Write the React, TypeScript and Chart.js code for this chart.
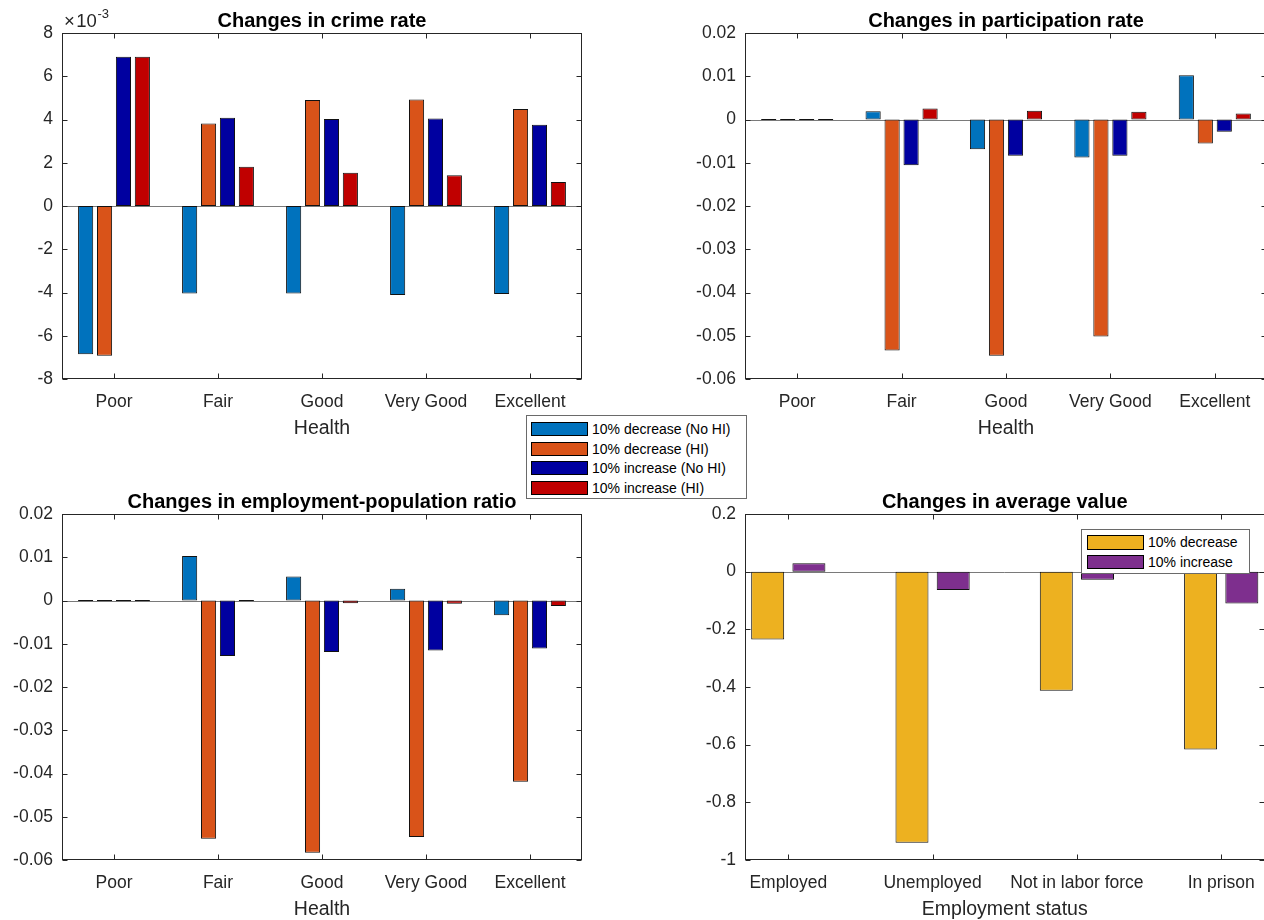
import React, { useEffect, useRef } from 'react';
import { Chart, registerables } from 'chart.js';

Chart.register(...registerables);

const FONT = '"Liberation Sans", Arial, Helvetica, sans-serif';
const AXIS_COLOR = '#262626';

// ---------- data ----------
const healthLabels = ['Poor', 'Fair', 'Good', 'Very Good', 'Excellent'];
const healthSeriesNames = ['10% decrease (No HI)', '10% decrease (HI)', '10% increase (No HI)', '10% increase (HI)'];
const healthSeriesColors = ['#0072BD', '#D95319', '#0000A0', '#C00000'];

const crimeDecNoHI = [-0.00686, -0.00405, -0.00405, -0.00411, -0.00407];
const crimeDecHI = [-0.00692, 0.00382, 0.0049, 0.00493, 0.00448];
const crimeIncNoHI = [0.0069, 0.00408, 0.00402, 0.00405, 0.00376];
const crimeIncHI = [0.0069, 0.00182, 0.00154, 0.00142, 0.00111];

const partDecNoHI = [0, 0.00193, -0.00686, -0.00879, 0.01025];
const partDecHI = [0, -0.0534, -0.0546, -0.0502, -0.00555];
const partIncNoHI = [0, -0.01056, -0.0084, -0.0084, -0.00285];
const partIncHI = [0, 0.00254, 0.002, 0.00177, 0.00139];

const empDecNoHI = [0, 0.01027, 0.00556, 0.0027, -0.0034];
const empDecHI = [0, -0.0551, -0.0583, -0.0547, -0.0419];
const empIncNoHI = [0, -0.01282, -0.01189, -0.01158, -0.0111];
const empIncHI = [0, 0, -0.00062, -0.00077, -0.0013];

const statusLabels = ['Employed', 'Unemployed', 'Not in labor force', 'In prison'];
const avgSeriesNames = ['10% decrease', '10% increase'];
const avgSeriesColors = ['#EDB120', '#7E2F8E'];
const avgDecrease = [-0.235, -0.94, -0.413, -0.617];
const avgIncrease = [0.029, -0.0637, -0.0278, -0.11];

const crimeTicks = { min: -0.008, max: 0.008, step: 0.002 };
const partTicks = { min: -0.06, max: 0.02, step: 0.01 };
const empTicks = { min: -0.06, max: 0.02, step: 0.01 };
const avgTicks = { min: -1, max: 0.2, step: 0.2 };

// ---------- plugin drawing MATLAB-like axes box ----------
const matlabAxesPlugin = {
  id: 'matlabAxes',
  beforeDatasetsDraw(chart: any) {
    const { ctx, chartArea: a } = chart;
    const y0 = Math.round(chart.scales.y.getPixelForValue(0)) + 0.5;
    ctx.save();
    ctx.strokeStyle = '#7a7a7a';
    ctx.lineWidth = 1;
    ctx.beginPath();
    ctx.moveTo(a.left, y0);
    ctx.lineTo(a.right, y0);
    ctx.stroke();
    ctx.restore();
  },
  afterDraw(chart: any, _args: any, opts: any) {
    const { ctx, chartArea: a, scales } = chart;
    const L = Math.round(a.left) + 0.5;
    const R = Math.round(a.right) - 0.5;
    const T = Math.round(a.top) + 0.5;
    const B = Math.round(a.bottom) - 0.5;
    ctx.save();
    ctx.strokeStyle = AXIS_COLOR;
    ctx.lineWidth = 1;
    ctx.strokeRect(L, T, R - L, B - T);
    const tl = 5;
    ctx.beginPath();
    scales.x.ticks.forEach((_t: any, i: number) => {
      const px = Math.round(scales.x.getPixelForTick(i)) + 0.5;
      ctx.moveTo(px, B);
      ctx.lineTo(px, B - tl);
      ctx.moveTo(px, T);
      ctx.lineTo(px, T + tl);
    });
    scales.y.ticks.forEach((_t: any, i: number) => {
      const py = Math.round(scales.y.getPixelForTick(i)) + 0.5;
      ctx.moveTo(L, py);
      ctx.lineTo(L + tl, py);
      ctx.moveTo(R, py);
      ctx.lineTo(R - tl, py);
    });
    ctx.stroke();

    const cx = (a.left + a.right) / 2;
    ctx.textAlign = 'center';
    ctx.textBaseline = 'alphabetic';
    ctx.fillStyle = '#000';
    ctx.font = `bold 20px ${FONT}`;
    ctx.fillText(opts.title, cx, a.top - 6.5);
    ctx.fillStyle = AXIS_COLOR;
    ctx.font = `19.5px ${FONT}`;
    ctx.fillText(opts.xLabel, cx, a.bottom + 55);

    if (opts.exponent) {
      ctx.textAlign = 'left';
      ctx.font = `18.5px ${FONT}`;
      const times = '\u00D7';
      ctx.fillText(times, a.left + 2, a.top - 6);
      const wt = ctx.measureText(times).width + 1.5;
      ctx.fillText('10', a.left + 2 + wt, a.top - 6);
      const w = wt + ctx.measureText('10').width;
      ctx.font = `13px ${FONT}`;
      ctx.fillText(opts.exponent, a.left + 2.5 + w, a.top - 15);
    }
    ctx.restore();
  },
};

type Area = { left: number; right: number; top: number; bottom: number };
type PanelSpec = {
  left: number;
  top: number;
  width: number;
  height: number;
  area: Area;
  title: string;
  xLabel: string;
  exponent?: string;
  labels: string[];
  linearX?: { min: number; max: number };
  series: number[][];
  names: string[];
  colors: string[];
  yTicks: { min: number; max: number; step: number };
  yFormat: (v: number) => string;
};

function makeConfig(p: PanelSpec): any {
  const groupWidth = Math.min(0.8, p.series.length / (p.series.length + 1.5));
  const datasets = p.series.map((vals, si) => ({
    label: p.names[si],
    data: p.linearX ? vals.map((v, i) => ({ x: i + 1, y: v })) : vals,
    backgroundColor: p.colors[si],
    borderColor: '#111',
    borderWidth: 1,
    borderSkipped: false,
    barPercentage: 0.8,
    categoryPercentage: groupWidth,
    minBarLength: 1,
  }));
  const tickFont = { family: FONT, size: 17.5 };
  const xScale: any = p.linearX
    ? {
        type: 'linear',
        offset: false,
        min: p.linearX.min,
        max: p.linearX.max,
        afterBuildTicks: (s: any) => {
          s.ticks = p.labels.map((_l, i) => ({ value: i + 1 }));
        },
        ticks: {
          callback: (v: any) => p.labels[Math.round(v) - 1] ?? '',
          font: tickFont,
          color: AXIS_COLOR,
          padding: 13,
          maxRotation: 0,
          autoSkip: false,
        },
      }
    : {
        type: 'category',
        offset: true,
        ticks: { font: tickFont, color: AXIS_COLOR, padding: 13, maxRotation: 0, autoSkip: false },
      };
  xScale.grid = { display: false, drawTicks: false, offset: false };
  xScale.border = { display: false };
  xScale.afterFit = (s: any) => {
    s.height = p.height - p.area.bottom;
  };
  return {
    type: 'bar',
    data: { labels: p.linearX ? undefined : p.labels, datasets },
    options: {
      animation: false,
      responsive: false,
      devicePixelRatio: 1,
      layout: { padding: { top: p.area.top, right: p.width - p.area.right, left: 0, bottom: 0 } },
      plugins: {
        legend: { display: false },
        title: { display: false },
        tooltip: { enabled: false },
        matlabAxes: { title: p.title, xLabel: p.xLabel, exponent: p.exponent },
      },
      scales: {
        x: xScale,
        y: {
          type: 'linear',
          min: p.yTicks.min,
          max: p.yTicks.max,
          grid: { display: false, drawTicks: false },
          border: { display: false },
          ticks: {
            stepSize: p.yTicks.step,
            font: tickFont,
            color: AXIS_COLOR,
            padding: 9,
            callback: (v: any) => p.yFormat(Number(v)),
          },
          afterFit: (s: any) => {
            s.width = p.area.left;
          },
        },
      },
    },
    plugins: [matlabAxesPlugin],
  };
}

const fmtMilli = (v: number) => String(Math.round(v * 1000) + 0);
const fmt2 = (v: number) => String(Math.round(v * 100) / 100 + 0);
const fmt1 = (v: number) => String(Math.round(v * 10) / 10 + 0);

const panels: PanelSpec[] = [
  {
    left: 0, top: 0, width: 600, height: 460,
    area: { left: 62, right: 582, top: 33, bottom: 379 },
    title: 'Changes in crime rate', xLabel: 'Health', exponent: '-3',
    labels: healthLabels,
    series: [crimeDecNoHI, crimeDecHI, crimeIncNoHI, crimeIncHI],
    names: healthSeriesNames, colors: healthSeriesColors,
    yTicks: crimeTicks, yFormat: fmtMilli,
  },
  {
    left: 683, top: 0, width: 600, height: 460,
    area: { left: 62, right: 584, top: 33, bottom: 379 },
    title: 'Changes in participation rate', xLabel: 'Health',
    labels: healthLabels,
    series: [partDecNoHI, partDecHI, partIncNoHI, partIncHI],
    names: healthSeriesNames, colors: healthSeriesColors,
    yTicks: partTicks, yFormat: fmt2,
  },
  {
    left: 0, top: 460, width: 600, height: 460,
    area: { left: 62, right: 582, top: 54, bottom: 400 },
    title: 'Changes in employment-population ratio', xLabel: 'Health',
    labels: healthLabels,
    series: [empDecNoHI, empDecHI, empIncNoHI, empIncHI],
    names: healthSeriesNames, colors: healthSeriesColors,
    yTicks: empTicks, yFormat: fmt2,
  },
  {
    left: 683, top: 460, width: 600, height: 460,
    area: { left: 62, right: 581.5, top: 54, bottom: 400 },
    title: 'Changes in average value', xLabel: 'Employment status',
    labels: statusLabels, linearX: { min: 0.7, max: 4.3 },
    series: [avgDecrease, avgIncrease],
    names: avgSeriesNames, colors: avgSeriesColors,
    yTicks: avgTicks, yFormat: fmt1,
  },
];

function Panel({ spec }: { spec: PanelSpec }) {
  const ref = useRef<HTMLCanvasElement>(null);
  useEffect(() => {
    const chart = new Chart(ref.current as HTMLCanvasElement, makeConfig(spec));
    return () => chart.destroy();
  }, [spec]);
  return (
    <canvas
      ref={ref}
      width={spec.width}
      height={spec.height}
      style={{ position: 'absolute', left: spec.left, top: spec.top, width: spec.width, height: spec.height }}
    />
  );
}

type LegendProps = {
  left: number; top: number; width: number; height: number;
  names: string[]; colors: string[];
  rowTop: number; rowPitch: number; swLeft: number; swWidth: number; swHeight: number; textLeft: number;
};

function Legend(p: LegendProps) {
  return (
    <div
      style={{
        position: 'absolute', left: p.left, top: p.top, width: p.width, height: p.height,
        boxSizing: 'border-box', border: '1px solid #6a6a6a', background: '#fff',
        fontFamily: FONT, fontSize: 14, color: '#000',
      }}
    >
      {p.names.map((n, i) => (
        <React.Fragment key={n}>
          <div
            style={{
              position: 'absolute', left: p.swLeft, top: p.rowTop + i * p.rowPitch,
              width: p.swWidth, height: p.swHeight, boxSizing: 'border-box',
              background: p.colors[i], border: '1px solid #000',
            }}
          />
          <div
            style={{
              position: 'absolute', left: p.textLeft, top: p.rowTop + i * p.rowPitch + p.swHeight / 2 - 9,
              height: 18, lineHeight: '18px', whiteSpace: 'nowrap',
            }}
          >
            {n}
          </div>
        </React.Fragment>
      ))}
    </div>
  );
}

export default function App() {
  return (
    <div
      style={{
        position: 'fixed', left: 0, top: 0, width: 1264, height: 920,
        overflow: 'hidden', background: '#fff',
      }}
    >
      {panels.map((p, i) => (
        <Panel key={i} spec={p} />
      ))}
      <Legend
        left={526} top={415} width={221} height={84}
        names={healthSeriesNames} colors={healthSeriesColors}
        rowTop={6} rowPitch={19.7} swLeft={4} swWidth={57} swHeight={14} textLeft={65}
      />
      <Legend
        left={1081} top={529} width={169} height={45}
        names={avgSeriesNames} colors={avgSeriesColors}
        rowTop={5} rowPitch={19.7} swLeft={5} swWidth={57} swHeight={14.5} textLeft={66}
      />
    </div>
  );
}
